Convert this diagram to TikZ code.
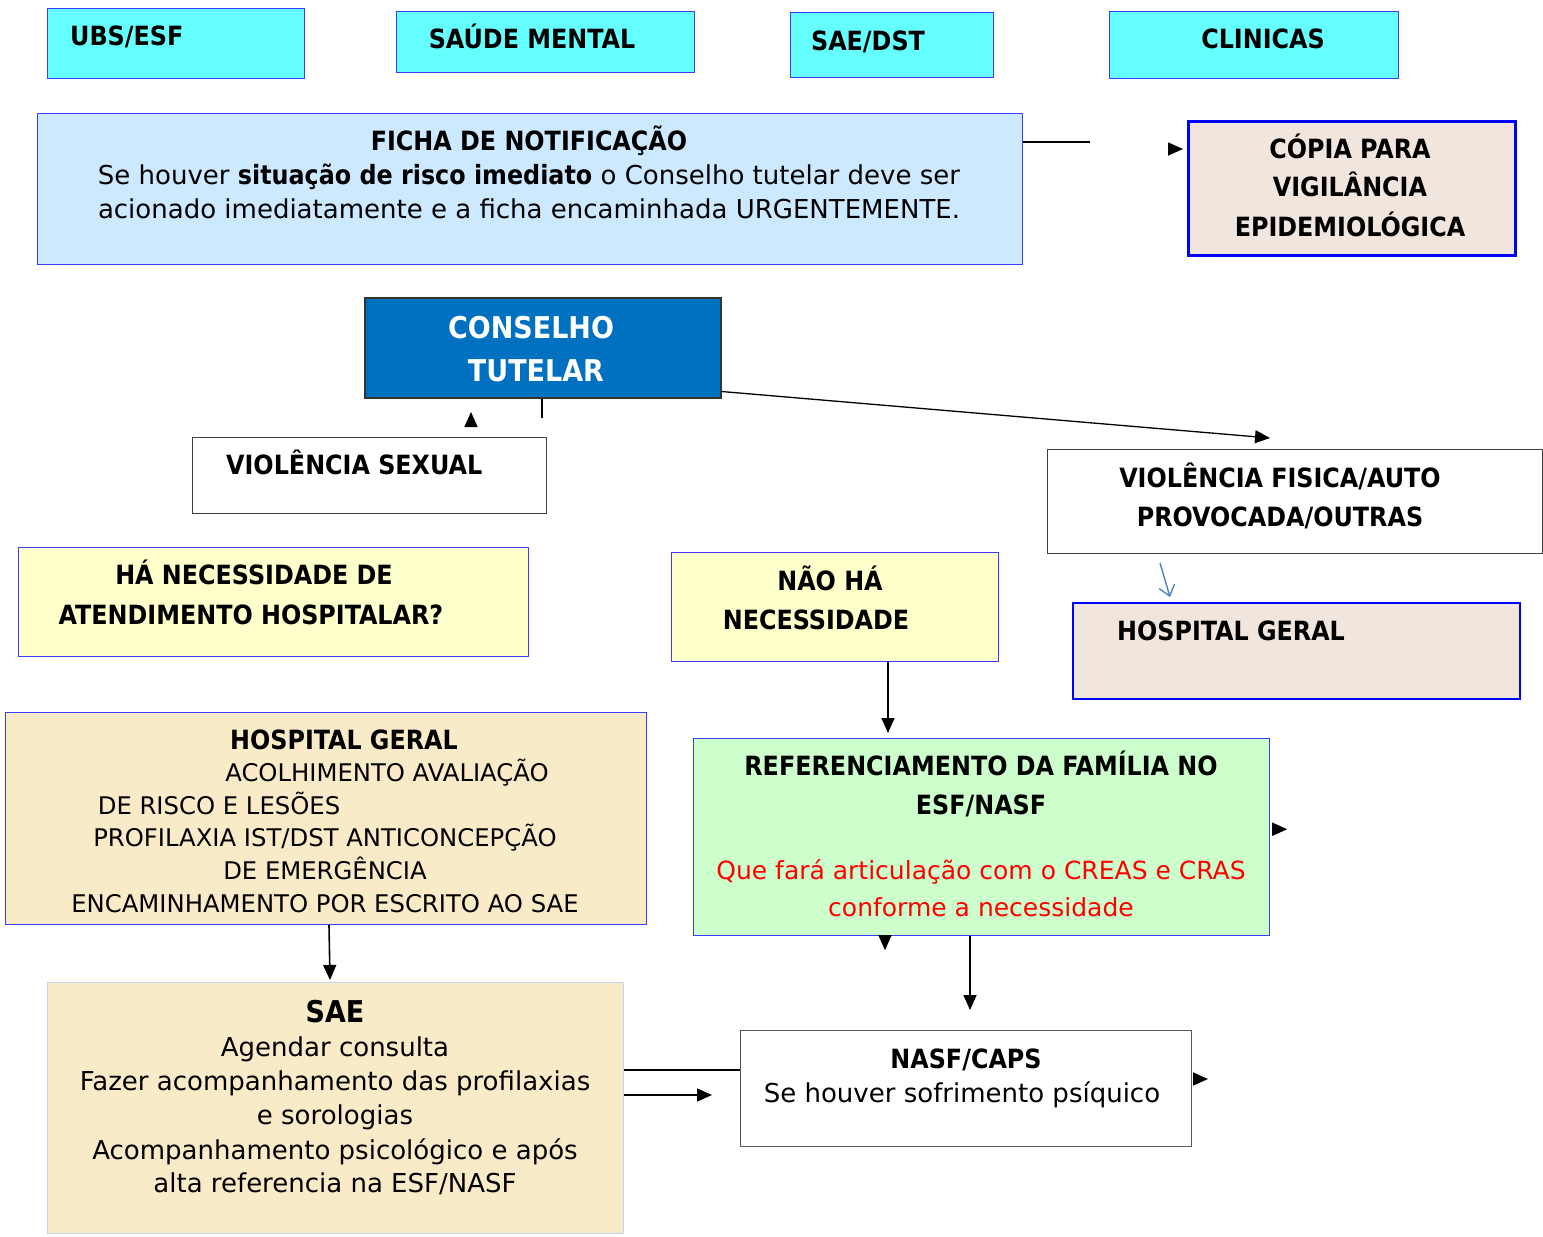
\documentclass[tikz,border=0pt]{standalone}
\usepackage{fontspec}
\setmainfont{DejaVu Sans}
\newfontfamily\condfont{DejaVu Sans Condensed}
\usetikzlibrary{arrows.meta,calc}
\definecolor{cyanbox}{RGB}{102,255,255}
\definecolor{fichabox}{RGB}{204,233,255}
\definecolor{copiabox}{RGB}{240,230,222}
\definecolor{conselhobox}{RGB}{0,112,192}
\definecolor{yellowbox}{RGB}{255,255,204}
\definecolor{greenbox}{RGB}{204,255,204}
\definecolor{wheatbox}{RGB}{250,235,200}
\definecolor{lineblue}{RGB}{60,60,255}
\definecolor{arrowblue}{RGB}{79,129,189}
\tikzset{
  box/.style={rectangle, anchor=north west, inner sep=0pt, line width=1pt},
  txt/.style={anchor=base, inner sep=0pt, font=\fontsize{26}{30}\selectfont},
  caps/.style={anchor=base, inner sep=0pt, font=\fontsize{24.3}{30}\selectfont},
  bld/.style={anchor=base, inner sep=0pt, font=\condfont\bfseries\fontsize{26.5}{30}\selectfont},
  big/.style={anchor=base, inner sep=0pt, font=\condfont\bfseries\fontsize{30}{36}\selectfont},
  arr/.style={line width=1.6pt, -{Triangle[length=15pt,width=13pt]}},
}
\begin{document}
\begin{tikzpicture}[x=1pt,y=-1pt]
  \useasboundingbox (0,0) rectangle (1543,1237);

  %%%%% top row %%%%%
  \node[box, draw=lineblue, fill=cyanbox, minimum width=257pt, minimum height=70pt] (ubs) at (47,8) {};
  \node[bld, anchor=base west] (ubst) at (70,45) {UBS/ESF};
  \node[box, draw=lineblue, fill=cyanbox, minimum width=298pt, minimum height=61pt] (saude) at (396,11) {};
  \node[bld] (saudet) at (532,48) {SAÚDE MENTAL};
  \node[box, draw=lineblue, fill=cyanbox, minimum width=203pt, minimum height=65pt] (saedst) at (790,12) {};
  \node[bld] (saedstt) at (868,50) {SAE/DST};
  \node[box, draw=lineblue, fill=cyanbox, minimum width=289pt, minimum height=67pt] (clinicas) at (1109,11) {};
  \node[bld] (clinicast) at (1263,48) {CLINICAS};

  %%%%% notificacao %%%%%
  \node[box, draw=lineblue, fill=fichabox, minimum width=985pt, minimum height=151pt] (ficha) at (37,113) {};
  \node[bld] (ficha1) at (529,150) {FICHA DE NOTIFICAÇÃO};
  \node[txt] (ficha2) at (529,184) {Se houver {\condfont\bfseries\fontsize{26.5}{30}\selectfont situação de risco imediato} o Conselho tutelar deve ser};
  \node[txt] (ficha3) at (529,218) {acionado imediatamente e a ficha encaminhada URGENTEMENTE.};

  \node[box, draw=blue, fill=copiabox, line width=2.5pt, minimum width=327pt, minimum height=134pt] (copia) at (1187,120) {};
  \node[bld] (copia1) at (1350,158) {CÓPIA PARA};
  \node[bld] (copia2) at (1350,196) {VIGILÂNCIA};
  \node[bld] (copia3) at (1350,236) {EPIDEMIOLÓGICA};

  \coordinate (fichaend) at (1090,142);
  \draw[line width=1.6pt] (fichaend -| ficha.east) -- (fichaend);
  \draw[arr] ($(copia.north west)+(-19,29)$) -- ($(copia.north west)+(-4,29)$);

  %%%%% conselho %%%%%
  \node[box, draw=black!80, fill=conselhobox, line width=1.5pt, minimum width=356pt, minimum height=100pt] (conselho) at (364,297) {};
  \node[big, text=white] (conselho1) at (531,338) {CONSELHO};
  \node[big, text=white] (conselho2) at (536,381) {TUTELAR};

  \node[box, draw=black!75, minimum width=354pt, minimum height=76pt] (sexual) at (192,437) {};
  \node[bld, anchor=base west] (sexualt) at (226,474) {VIOLÊNCIA SEXUAL};

  \node[box, draw=black!75, minimum width=495pt, minimum height=104pt] (fisica) at (1047,449) {};
  \node[bld] (fisica1) at (1280,487) {VIOLÊNCIA FISICA/AUTO};
  \node[bld] (fisica2) at (1280,526) {PROVOCADA/OUTRAS};

  \draw[line width=1.6pt] ($(conselho.south west)+(178,0)$) -- +(0,19);
  \draw[arr] ($(sexual.north west)+(279,-13)$) -- +(0,-12);
  \draw[arr, line width=1.3pt] ($(conselho.south east)+(0,-7)$) -- ($(fisica.north west)+(223,-11)$);

  \node[box, draw=blue, fill=copiabox, line width=2pt, minimum width=447pt, minimum height=96pt] (hgr) at (1072,602) {};
  \node[bld, anchor=base west] (hgrt) at (1117,640) {HOSPITAL GERAL};
  \draw[arrowblue, line width=1.4pt, -{Straight Barb[length=10pt,width=16pt]}] ($(hgr.north west)+(88,-39)$) -- ($(hgr.north west)+(98,-5)$);

  %%%%% necessidade %%%%%
  \node[box, draw=lineblue, fill=yellowbox, minimum width=510pt, minimum height=109pt] (hanec) at (18,547) {};
  \node[bld] (hanec1) at (254,584) {HÁ NECESSIDADE DE};
  \node[bld] (hanec2) at (251,624) {ATENDIMENTO HOSPITALAR?};

  \node[box, draw=lineblue, fill=yellowbox, minimum width=327pt, minimum height=109pt] (nao) at (671,552) {};
  \node[bld] (nao1) at (830,590) {NÃO HÁ};
  \node[bld] (nao2) at (816,629) {NECESSIDADE};

  \node[box, draw=lineblue, fill=greenbox, line width=1.2pt, minimum width=576pt, minimum height=197pt] (ref) at (693,738) {};
  \node[bld] (ref1) at (981,775) {REFERENCIAMENTO DA FAMÍLIA NO};
  \node[bld] (ref2) at (981,814) {ESF/NASF};
  \node[txt, text=red, font=\fontsize{25}{30}\selectfont] (ref3) at (981,879) {Que fará articulação com o CREAS e CRAS};
  \node[txt, text=red, font=\fontsize{25}{30}\selectfont] (ref4) at (981,916) {conforme a necessidade};

  \draw[arr] ($(nao.south west)+(217,0)$) -- ($(ref.north west)+(195,-5)$);
  \draw[arr] ($(ref.south east)+(2,-107)$) -- ($(ref.south east)+(17,-107)$);
  \draw[arr] ($(ref.south west)+(192,1)$) -- ($(ref.south west)+(192,14)$);

  %%%%% hospital geral %%%%%
  \node[box, draw=lineblue, fill=wheatbox, minimum width=641pt, minimum height=212pt] (hgl) at (5,712) {};
  \node[bld] (hgl1) at (344,749) {HOSPITAL GERAL};
  \node[caps] (hgl2) at (387,781) {ACOLHIMENTO AVALIAÇÃO};
  \node[caps] (hgl3) at (219,814) {DE RISCO E LESÕES};
  \node[caps] (hgl4) at (325,846) {PROFILAXIA IST/DST ANTICONCEPÇÃO};
  \node[caps] (hgl5) at (325,879) {DE EMERGÊNCIA};
  \node[caps] (hgl6) at (325,912) {ENCAMINHAMENTO POR ESCRITO AO SAE};

  \node[box, draw=blue!20, fill=wheatbox, minimum width=576pt, minimum height=251pt] (sae) at (47,982) {};
  \node[big] (sae1) at (335,1022) {SAE};
  \node[txt] (sae2) at (335,1056) {Agendar consulta};
  \node[txt] (sae3) at (335,1090) {Fazer acompanhamento das profilaxias};
  \node[txt] (sae4) at (335,1124) {e sorologias};
  \node[txt] (sae5) at (335,1159) {Acompanhamento psicológico e após};
  \node[txt] (sae6) at (335,1192) {alta referencia na ESF/NASF};

  \node[box, draw=black!65, minimum width=451pt, minimum height=116pt] (nasf) at (740,1030) {};
  \node[bld] (nasf1) at (966,1068) {NASF/CAPS};
  \node[txt] (nasf2) at (962,1102) {Se houver sofrimento psíquico};

  \draw[arr] ($(hgl.south west)+(324,0)$) -- ($(sae.north west)+(283,-2)$);
  \draw[arr] ($(ref.south west)+(277,0)$) -- ($(nasf.north west)+(230,-20)$);
  \draw[line width=1.6pt] ($(sae.north east)+(0,88)$) -- ($(nasf.north west)+(0,40)$);
  \draw[arr] ($(sae.north east)+(0,113)$) -- ($(nasf.north west)+(-28,65)$);
  \draw[arr] ($(nasf.north east)+(2,49)$) -- ($(nasf.north east)+(16,49)$);
\end{tikzpicture}
\end{document}
